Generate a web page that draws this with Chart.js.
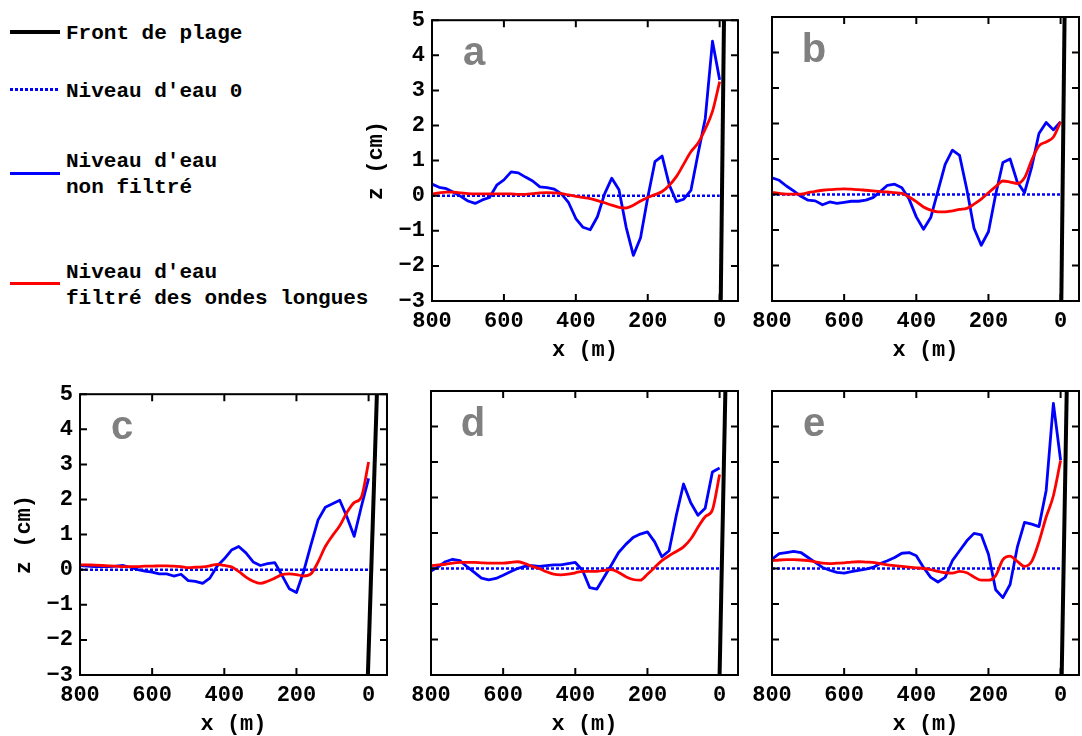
<!DOCTYPE html>
<html>
<head>
<meta charset="utf-8">
<script src="https://cdn.jsdelivr.net/npm/chart.js@4.4.1/dist/chart.umd.min.js"></script>
<style>
    body { margin: 0; background: #fff; width: 1082px; height: 736px; position: relative; overflow: hidden; }
    canvas { position: absolute; }
    .leg-line { position: absolute; left: 10px; width: 50px; }
    .leg-text { position: absolute; left: 66px; font: bold 21px "Liberation Mono", "Courier New", monospace; line-height: 26px; white-space: pre; color: #000; }
</style>
</head>
<body>
<div id="legend"></div>
<canvas id="panelA" width="390" height="370" style="left:360px;top:0px"></canvas>
<canvas id="panelB" width="391" height="370" style="left:700px;top:0px"></canvas>
<canvas id="panelC" width="391" height="370" style="left:8px;top:374px"></canvas>
<canvas id="panelD" width="391" height="370" style="left:359px;top:374px"></canvas>
<canvas id="panelE" width="391" height="370" style="left:700px;top:374px"></canvas>
<script>
// cross-shore distance (m), same sampling for every panel
const distances = [800, 780, 760, 740, 720, 700, 680, 660, 640, 620,
                   600, 580, 560, 540, 520, 500, 480, 460, 440, 420,
                   400, 380, 360, 340, 320, 300, 280, 260, 240, 220,
                   200, 180, 160, 140, 120, 100, 80, 60, 40, 20, 0];

const xTickValues = [800, 600, 400, 200, 0];
const yTickValues = [-3, -2, -1, 0, 1, 2, 3, 4, 5];

const seriesLabels = ["Front de plage", "Niveau d'eau 0", "Niveau d'eau\nnon filtré", "Niveau d'eau\nfiltré des ondes longues"];
const panelLetters = ["a", "b", "c", "d", "e"];

// unfiltered water level (cm)
const rawA = [0.33, 0.24, 0.2, 0.1, -0.02, -0.15, -0.22, -0.12, -0.05, 0.3,
              0.45, 0.68, 0.65, 0.53, 0.42, 0.25, 0.23, 0.19, 0.05, -0.2,
              -0.65, -0.9, -0.97, -0.6, 0.05, 0.5, 0.17, -0.9, -1.7, -1.2,
              -0.05, 0.97, 1.13, 0.3, -0.17, -0.1, 0.15, 1.2, 2.2, 4.4, 3.3];
const rawB = [0.47, 0.4, 0.24, 0.1, -0.05, -0.16, -0.18, -0.29, -0.21, -0.25,
              -0.22, -0.19, -0.19, -0.16, -0.09, 0.08, 0.26, 0.29, 0.19, -0.13,
              -0.63, -0.98, -0.65, 0.1, 0.85, 1.25, 1.1, 0.15, -0.95, -1.43,
              -1.05, 0.0, 0.9, 1.0, 0.35, 0.05, 0.78, 1.72, 2.03, 1.82, 2.05];
const rawC = [0.12, 0.1, 0.09, 0.09, 0.09, 0.1, 0.12, 0.07, 0, -0.04,
              -0.07, -0.12, -0.12, -0.18, -0.13, -0.31, -0.33, -0.39, -0.24, 0.1,
              0.31, 0.56, 0.66, 0.48, 0.22, 0.12, 0.17, 0.2, -0.16, -0.54,
              -0.65, -0.05, 0.7, 1.42, 1.78, 1.88, 1.98, 1.5, 0.95, 1.8, 2.6];
const rawD = [-0.07, 0.05, 0.19, 0.26, 0.22, 0.05, -0.11, -0.27, -0.32, -0.28,
              -0.19, -0.09, 0, 0.06, 0.08, 0.06, 0.08, 0.1, 0.1, 0.14,
              0.17, -0.05, -0.54, -0.58, -0.24, 0.1, 0.45, 0.68, 0.87, 0.97,
              1.03, 0.75, 0.33, 0.5, 1.5, 2.38, 1.85, 1.5, 1.7, 2.72, 2.83];
const rawE = [0.26, 0.42, 0.45, 0.48, 0.45, 0.31, 0.17, 0.03, -0.05, -0.11,
              -0.13, -0.09, -0.05, -0.02, 0.03, 0.14, 0.22, 0.31, 0.43, 0.45,
              0.36, 0.03, -0.25, -0.38, -0.25, 0.22, 0.5, 0.78, 0.99, 0.95,
              0.4, -0.6, -0.82, -0.45, 0.6, 1.3, 1.25, 1.18, 2.2, 4.65, 3.05];

// water level filtered of long waves (cm)
const filtA = [0.05, 0.08, 0.1, 0.1, 0.08, 0.06, 0.05, 0.05, 0.05, 0.05,
               0.05, 0.05, 0.04, 0.04, 0.06, 0.08, 0.09, 0.08, 0.06, 0.02,
               -0.02, -0.05, -0.08, -0.14, -0.2, -0.27, -0.33, -0.35, -0.27, -0.15,
               -0.05, 0.03, 0.12, 0.3, 0.55, 0.9, 1.25, 1.5, 1.9, 2.4, 3.25];
const filtB = [0.06, 0.03, 0.01, 0.01, 0.01, 0.05, 0.09, 0.12, 0.14, 0.15,
               0.16, 0.15, 0.14, 0.12, 0.1, 0.08, 0.07, 0.05, 0.03, -0.07,
               -0.2, -0.35, -0.44, -0.49, -0.49, -0.46, -0.42, -0.39, -0.27, -0.13,
               0.05, 0.22, 0.38, 0.35, 0.31, 0.47, 0.97, 1.37, 1.48, 1.62, 2.05];
const filtC = [0.14, 0.14, 0.13, 0.12, 0.11, 0.1, 0.09, 0.09, 0.09, 0.1,
               0.1, 0.11, 0.11, 0.1, 0.09, 0.06, 0.07, 0.08, 0.11, 0.15,
               0.12, 0.08, -0.05, -0.21, -0.33, -0.39, -0.33, -0.24, -0.14, -0.12,
               -0.14, -0.18, -0.12, 0.22, 0.66, 0.97, 1.25, 1.63, 1.91, 2.07, 3.07];
const filtD = [0.08, 0.1, 0.12, 0.15, 0.17, 0.17, 0.17, 0.16, 0.15, 0.15,
               0.15, 0.17, 0.19, 0.14, 0.06, 0, -0.09, -0.16, -0.18, -0.16,
               -0.12, -0.08, -0.08, -0.08, -0.05, -0.03, -0.11, -0.23, -0.31, -0.33,
               -0.16, 0.03, 0.22, 0.36, 0.48, 0.61, 0.83, 1.16, 1.46, 1.65, 2.65];
const filtE = [0.22, 0.24, 0.25, 0.25, 0.24, 0.22, 0.19, 0.15, 0.14, 0.15,
               0.16, 0.18, 0.19, 0.18, 0.17, 0.14, 0.1, 0.08, 0.06, 0.04,
               0.02, 0, -0.03, -0.08, -0.12, -0.13, -0.08, -0.12, -0.24, -0.33,
               -0.33, -0.2, 0.25, 0.35, 0.2, 0.06, 0.2, 0.75, 1.45, 2.05, 3.04];

// beach front line: x at the bottom (z=-3) and top (z=5) of each panel
const frontZ = [-3, 5];
const frontXA = [-3, -12];
const frontXB = [-2, -11];
const frontXC = [2, -23];
const frontXD = [0, -16];
const frontXE = [-3, -17];

// still water level reference
const zeroLevelX = [800, 0];

const monoFont = { family: '"Liberation Mono", "Courier New", monospace', size: 22, weight: "bold" };

// Draw the box, inward ticks on all four sides and the panel letter
const boxTicks = {
    id: "boxTicks",
    beforeDatasetsDraw(chart, args, opts) {
        const { ctx, chartArea: area } = chart;
        ctx.save();
        ctx.fillStyle = "#808080";
        ctx.font = 'bold 40px "Liberation Sans", Arial, sans-serif';
        ctx.textAlign = "center";
        ctx.textBaseline = "alphabetic";
        ctx.fillText(opts.letter, area.left + 42, area.top + 45);
        ctx.restore();
    },
    afterDraw(chart) {
        const { ctx, chartArea: area, scales } = chart;
        ctx.save();
        ctx.strokeStyle = "#000";
        ctx.lineWidth = 2;
        ctx.strokeRect(area.left, area.top, area.right - area.left, area.bottom - area.top);
        ctx.beginPath();
        scales.x.ticks.forEach((t) => {
            const px = scales.x.getPixelForValue(t.value);
            ctx.moveTo(px, area.bottom);
            ctx.lineTo(px, area.bottom - 7);
            ctx.moveTo(px, area.top);
            ctx.lineTo(px, area.top + 7);
        });
        scales.y.ticks.forEach((t) => {
            const py = scales.y.getPixelForValue(t.value);
            ctx.moveTo(area.left, py);
            ctx.lineTo(area.left + 7, py);
            ctx.moveTo(area.right, py);
            ctx.lineTo(area.right - 7, py);
        });
        ctx.stroke();
        ctx.restore();
    },
};

function makePanel(canvasId, letter, raw, filtered, frontX, showY) {
    const ctx = document.getElementById(canvasId).getContext("2d");

    const datasets = [
        {
            label: seriesLabels[0],
            data: frontX.map((x, i) => ({ x: x, y: frontZ[i] })),
            borderColor: "#000",
            borderWidth: 4,
            order: 0,
        },
        {
            label: seriesLabels[1],
            data: zeroLevelX.map((x) => ({ x: x, y: 0 })),
            borderColor: "#0000ff",
            borderWidth: 2.5,
            borderDash: [3, 2],
            order: 3,
        },
        {
            label: seriesLabels[2],
            data: distances.map((x, i) => ({ x: x, y: raw[i] })),
            borderColor: "#0000ff",
            borderWidth: 2.8,
            order: 2,
        },
        {
            label: seriesLabels[3],
            data: distances.map((x, i) => ({ x: x, y: filtered[i] })),
            borderColor: "#ff0000",
            borderWidth: 2.8,
            cubicInterpolationMode: "monotone",
            order: 1,
        },
    ];

    new Chart(ctx, {
        type: "line",
        data: { datasets: datasets },
        options: {
            responsive: false,
            animation: false,
            events: [],
            layout: { padding: { top: 17, right: 12, left: 0, bottom: 0 } },
            elements: {
                point: { radius: 0 },
                line: { fill: false, borderJoinStyle: "round", borderCapStyle: "butt" },
            },
            scales: {
                x: {
                    type: "linear",
                    reverse: true,
                    min: -51,
                    max: 800,
                    afterBuildTicks: (s) => { s.ticks = xTickValues.map((v) => ({ value: v })); },
                    afterFit: (s) => { s.height = 69; },
                    grid: { display: false, drawTicks: false },
                    border: { display: false },
                    ticks: { font: monoFont, color: "#000", padding: 7, maxRotation: 0, autoSkip: false },
                    title: { display: true, text: "x (m)", font: monoFont, color: "#000", padding: { top: 0, bottom: 6 } },
                },
                y: {
                    type: "linear",
                    min: -3,
                    max: 5,
                    afterBuildTicks: (s) => { s.ticks = yTickValues.map((v) => ({ value: v })); },
                    afterFit: (s) => { s.width = 72; },
                    grid: { display: false, drawTicks: false },
                    border: { display: false },
                    ticks: {
                        display: showY,
                        font: monoFont,
                        color: "#000",
                        padding: 7,
                        callback: (v) => String(v).replace("-", "\u2212"),
                    },
                    title: { display: showY, text: "z (cm)", font: monoFont, color: "#000", padding: { top: 3 } },
                },
            },
            plugins: {
                legend: { display: false },
                tooltip: { enabled: false },
                boxTicks: { letter: letter },
            },
        },
        plugins: [boxTicks],
    });
}

makePanel("panelA", panelLetters[0], rawA, filtA, frontXA, true);
makePanel("panelB", panelLetters[1], rawB, filtB, frontXB, false);
makePanel("panelC", panelLetters[2], rawC, filtC, frontXC, true);
makePanel("panelD", panelLetters[3], rawD, filtD, frontXD, false);
makePanel("panelE", panelLetters[4], rawE, filtE, frontXE, false);

// Legend on the left, built from the series labels
const legendStyles = [
    { top: 30, height: 4, background: "#000", textTop: 21 },
    { top: 88, height: 3, background: "repeating-linear-gradient(to right, #0000ff 0 3px, transparent 3px 5px)", textTop: 79 },
    { top: 172, height: 3, background: "#0000ff", textTop: 149 },
    { top: 282, height: 3, background: "#ff0000", textTop: 260 },
];
const legend = document.getElementById("legend");
seriesLabels.forEach((label, i) => {
    const st = legendStyles[i];
    const line = document.createElement("div");
    line.className = "leg-line";
    line.style.top = st.top + "px";
    line.style.height = st.height + "px";
    line.style.background = st.background;
    legend.appendChild(line);

    const text = document.createElement("div");
    text.className = "leg-text";
    text.style.top = st.textTop + "px";
    text.textContent = label;
    legend.appendChild(text);
});
</script>
</body>
</html>
